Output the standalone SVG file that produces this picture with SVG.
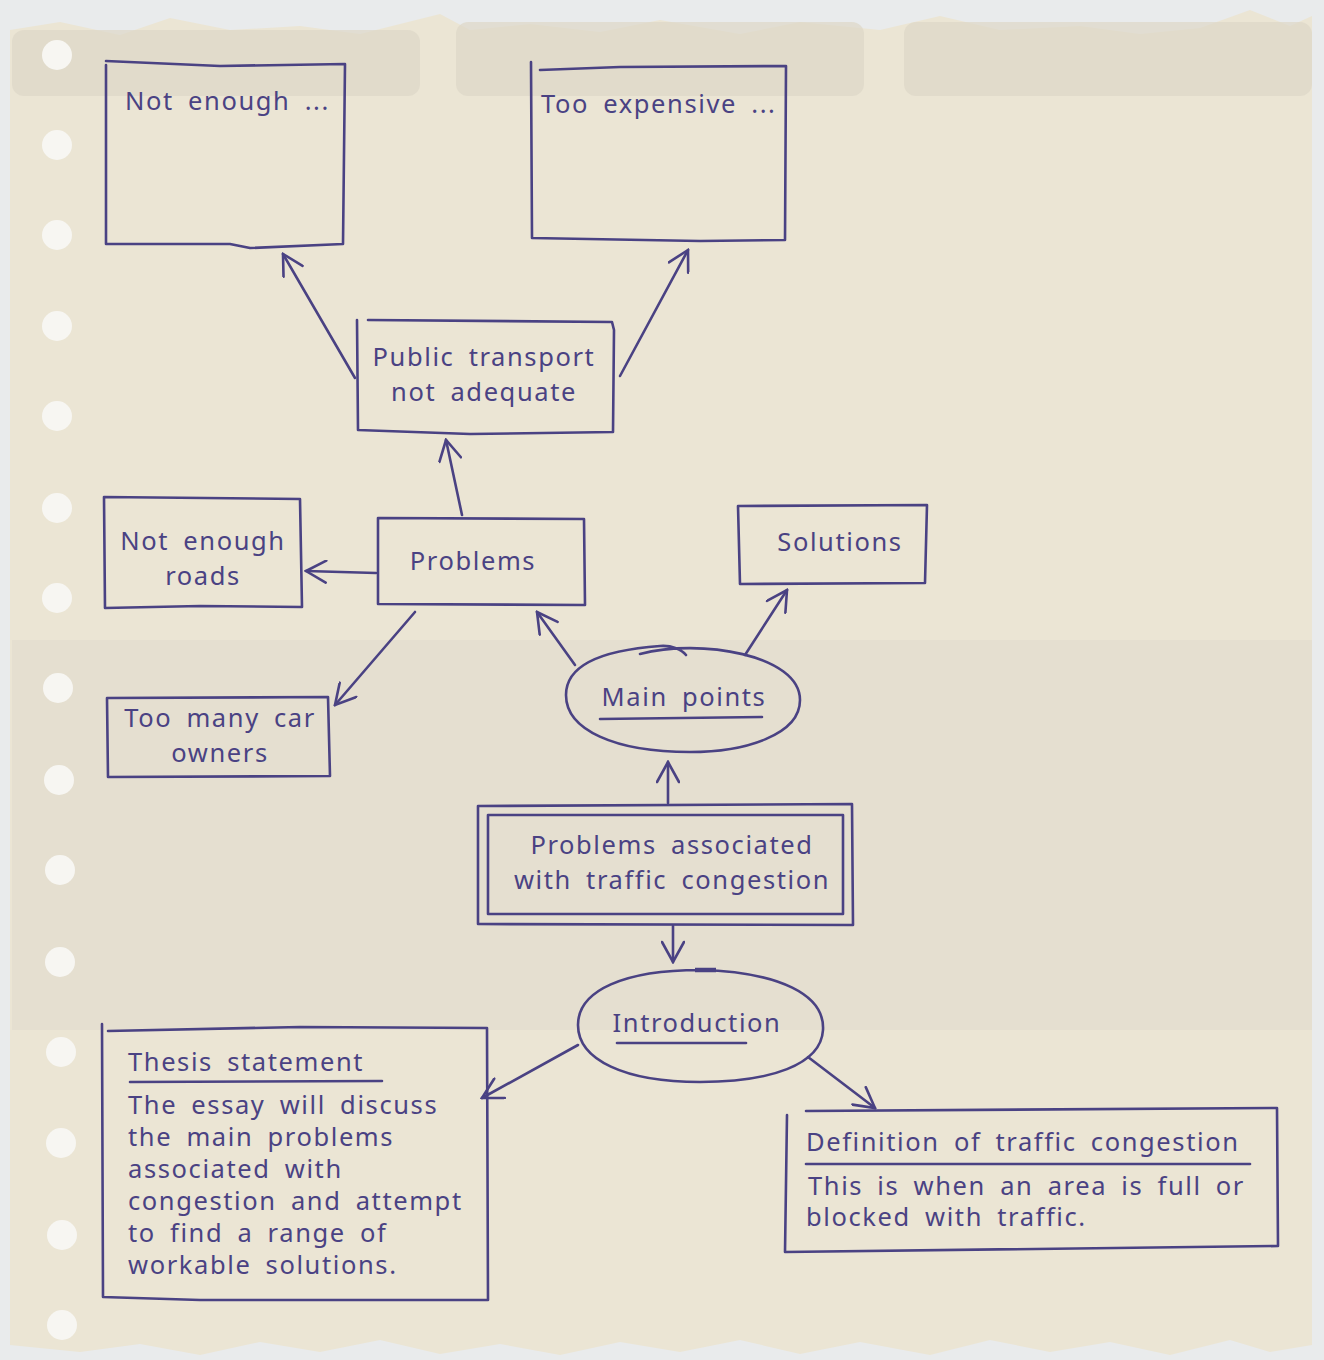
<svg xmlns="http://www.w3.org/2000/svg" width="1324" height="1360" viewBox="0 0 1324 1360">
<defs>
<style>
.ln{fill:none;stroke:#4a4283;stroke-width:2.6;stroke-linecap:round;stroke-linejoin:round}
.t{font-family:"Noto Sans","Open Sans",sans-serif;font-size:25.5px;fill:#4a4283;letter-spacing:1.6px;word-spacing:6px}
.m{text-anchor:middle}
.hole{fill:#f7f6f2}
.band{fill:#ddd7c8;opacity:0.7}
</style>
<marker id="ahb" viewBox="0 0 24 24" refX="22" refY="12" markerWidth="24" markerHeight="24" markerUnits="userSpaceOnUse" orient="auto">
<path d="M2,1 L22,12 L2,23" fill="none" stroke="#4a4283" stroke-width="2.6" stroke-linecap="round"/>
</marker>
</defs>
<!-- background -->
<rect x="0" y="0" width="1324" height="1360" fill="#e9ebec"/>
<path d="M10,30 L60,22 L120,35 L170,18 L230,30 L300,26 L360,34 L440,14 L470,30 L530,24 L600,32 L660,20 L740,34 L800,22 L880,30 L940,16 L1000,30 L1080,26 L1140,34 L1200,28 L1250,10 L1290,26 L1312,16 L1312,1345 L1270,1352 L1230,1340 L1170,1355 L1110,1342 L1050,1352 L990,1340 L930,1355 L860,1342 L800,1354 L740,1340 L680,1352 L620,1342 L560,1355 L500,1344 L440,1354 L380,1340 L320,1352 L260,1342 L200,1355 L140,1344 L80,1352 L10,1345 Z" fill="#ebe5d4"/>
<rect x="12" y="30" width="408" height="66" rx="12" class="band"/>
<rect x="456" y="22" width="408" height="74" rx="12" class="band"/>
<rect x="904" y="22" width="408" height="74" rx="12" class="band"/>
<rect x="12" y="640" width="1300" height="390" fill="#ddd8cb" opacity="0.45"/>
<g>
<circle cx="57" cy="55" r="15" class="hole"/>
<circle cx="57" cy="145" r="15" class="hole"/>
<circle cx="57" cy="235" r="15" class="hole"/>
<circle cx="57" cy="326" r="15" class="hole"/>
<circle cx="57" cy="416" r="15" class="hole"/>
<circle cx="57" cy="508" r="15" class="hole"/>
<circle cx="57" cy="598" r="15" class="hole"/>
<circle cx="58" cy="688" r="15" class="hole"/>
<circle cx="59" cy="780" r="15" class="hole"/>
<circle cx="60" cy="870" r="15" class="hole"/>
<circle cx="60" cy="962" r="15" class="hole"/>
<circle cx="61" cy="1052" r="15" class="hole"/>
<circle cx="61" cy="1143" r="15" class="hole"/>
<circle cx="62" cy="1235" r="15" class="hole"/>
<circle cx="62" cy="1325" r="15" class="hole"/>
</g>

<g id="connectors">
<path class="ln" d="M355,378 L283,254" marker-end="url(#ahb)"/>
<path class="ln" d="M620,376 L688,250" marker-end="url(#ahb)"/>
<path class="ln" d="M462,515 L446,440" marker-end="url(#ahb)"/>
<path class="ln" d="M376,573 L306,571" marker-end="url(#ahb)"/>
<path class="ln" d="M415,612 L335,705" marker-end="url(#ahb)"/>
<path class="ln" d="M575,665 L537,612" marker-end="url(#ahb)"/>
<path class="ln" d="M745,655 L787,590" marker-end="url(#ahb)"/>
<path class="ln" d="M668,803 L668,762" marker-end="url(#ahb)"/>
<path class="ln" d="M673,926 L673,962" marker-end="url(#ahb)"/>
<path class="ln" d="M578,1045 L482,1098" marker-end="url(#ahb)"/>
<path class="ln" d="M808,1057 L875,1108" marker-end="url(#ahb)"/>
</g>

<g id="not-enough">
<path class="ln" d="M106,65 L106,244 L230,244 L250,248 L343,244 L345,64 L220,66 L106,61"/>
<text class="t" x="125" y="110">Not enough ...</text>
</g>
<g id="too-expensive">
<path class="ln" d="M531,62 L532,238 L700,241 L785,240 L786,66 L620,67 L540,70"/>
<text class="t" x="541" y="113">Too expensive ...</text>
</g>
<g id="public-transport">
<path class="ln" d="M368,320 L612,322 L614,330 L613,432 L470,434 L358,430 L357,320"/>
<text class="t m" x="484" y="366">Public transport</text>
<text class="t m" x="484" y="401">not adequate</text>
</g>
<g id="not-enough-roads">
<path class="ln" d="M104,497 L300,499 L302,607 L200,606 L105,608 L104,497"/>
<text class="t m" x="203" y="550">Not enough</text>
<text class="t m" x="203" y="585">roads</text>
</g>
<g id="problems">
<path class="ln" d="M379,518 L584,519 L585,605 L378,604 L378,518"/>
<text class="t m" x="473" y="570">Problems</text>
</g>
<g id="too-many-car">
<path class="ln" d="M107,698 L328,697 L330,776 L108,777 L107,698"/>
<text class="t m" x="220" y="727">Too many car</text>
<text class="t m" x="220" y="762">owners</text>
</g>
<g id="solutions">
<path class="ln" d="M738,506 L927,505 L925,583 L740,584 L738,506"/>
<text class="t m" x="840" y="551">Solutions</text>
</g>
<g id="main-points">
<path class="ln" d="M640,654 C700,638 800,655 800,700 C800,735 745,752 690,752 C615,752 566,730 566,695 C566,664 605,650 660,646 C672,645 682,650 686,655"/>
<text class="t m" x="684" y="706">Main points</text>
<path class="ln" d="M600,719 L762,717"/>
</g>
<g id="central">
<path class="ln" d="M478,806 L852,804 L853,925 L478,924 L478,806"/>
<path class="ln" d="M488,815 L843,815 L843,914 L488,914 L488,815"/>
<text class="t m" x="672" y="854">Problems associated</text>
<text class="t m" x="672" y="889">with traffic congestion</text>
</g>
<g id="introduction">
<path class="ln" d="M700,970 C780,972 825,995 823,1030 C821,1065 770,1082 700,1082 C625,1082 578,1060 578,1025 C578,990 625,970 700,970"/>
<path d="M695,970 L716,970" stroke="#4a4283" stroke-width="4.5"/>
<text class="t m" x="697" y="1032">Introduction</text>
<path class="ln" d="M617,1043 L746,1043"/>
</g>
<g id="thesis">
<path class="ln" d="M102,1024 L103,1297 L200,1300 L488,1300 L487,1028 L300,1027 L108,1031"/>
<text class="t" x="128" y="1071">Thesis statement</text>
<path class="ln" d="M130,1082 L382,1081"/>
<text class="t" x="128" y="1114">The essay will discuss</text>
<text class="t" x="128" y="1146">the main problems</text>
<text class="t" x="128" y="1178">associated with</text>
<text class="t" x="128" y="1210">congestion and attempt</text>
<text class="t" x="128" y="1242">to find a range of</text>
<text class="t" x="128" y="1274">workable solutions.</text>
</g>
<g id="definition">
<path class="ln" d="M806,1111 L1277,1108 L1278,1246 L785,1252 L787,1115"/>
<text class="t" x="806" y="1151">Definition of traffic congestion</text>
<path class="ln" d="M806,1164 L1250,1164"/>
<text class="t" x="808" y="1195">This is when an area is full or</text>
<text class="t" x="806" y="1226">blocked with traffic.</text>
</g>
</svg>
